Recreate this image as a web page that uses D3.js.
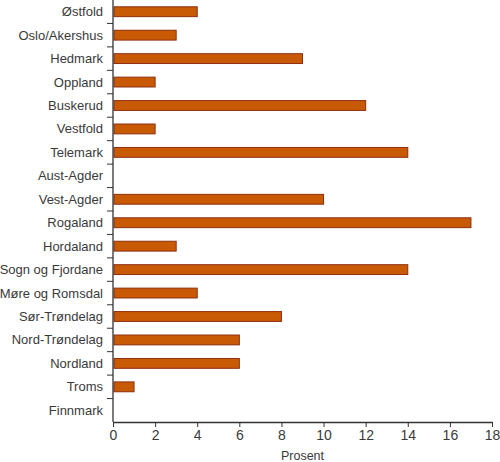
<!DOCTYPE html>
<html>
<head>
<meta charset="utf-8">
<script src="https://cdn.jsdelivr.net/npm/d3@7"></script>
<style>
  body { margin: 0; background: #fff; }
  text { font-family: "Liberation Sans", Arial, sans-serif; fill: #3a3a3a; }
</style>
</head>
<body>
<div id="wrapper"></div>
<script>
const fylker = [
  "Østfold", "Oslo/Akershus", "Hedmark", "Oppland", "Buskerud", "Vestfold",
  "Telemark", "Aust-Agder", "Vest-Agder", "Rogaland", "Hordaland",
  "Sogn og Fjordane", "Møre og Romsdal", "Sør-Trøndelag", "Nord-Trøndelag",
  "Nordland", "Troms", "Finnmark"
]
const prosent = [4, 3, 9, 2, 12, 2, 14, 0, 10, 17, 3, 14, 4, 8, 6, 6, 1, 0]
const xTicks = [0, 2, 4, 6, 8, 10, 12, 14, 16, 18]

const dataset = fylker.map((f, i) => ({ fylke: f, verdi: prosent[i] }))

let dimensions = {
  width: 500,
  height: 462,
  margin: { top: 0, right: 8, bottom: 40, left: 113 },
}
dimensions.boundedWidth = dimensions.width - dimensions.margin.left - dimensions.margin.right
dimensions.boundedHeight = dimensions.height - dimensions.margin.top - dimensions.margin.bottom

const wrapper = d3.select("#wrapper")
  .append("svg")
    .attr("width", dimensions.width)
    .attr("height", dimensions.height)

const bounds = wrapper.append("g")
    .attr("transform", `translate(${dimensions.margin.left},${dimensions.margin.top})`)

// scales
const xScale = d3.scaleLinear()
    .domain([0, 18])
    .range([0, 379])

const yScale = d3.scaleBand()
    .domain(fylker)
    .range([0, dimensions.boundedHeight])
    .paddingInner(0.58)
    .paddingOuter(0.29)

// bars
bounds.selectAll("rect")
  .data(dataset.filter(d => d.verdi > 0))
  .enter().append("rect")
    .attr("x", xScale(0) + 1)
    .attr("y", d => yScale(d.fylke))
    .attr("width", d => xScale(d.verdi) - xScale(0) - 1)
    .attr("height", yScale.bandwidth())
    .attr("fill", "#c85a06")
    .attr("stroke", "#8e2e10")
    .attr("stroke-width", 1)

// x axis
const xAxis = bounds.append("g")
    .attr("transform", `translate(0,${dimensions.boundedHeight})`)
    .call(d3.axisBottom(xScale).tickValues(xTicks).tickSize(5).tickSizeOuter(0))
xAxis.select(".domain").attr("stroke", "#333").attr("stroke-width", 1.3)
xAxis.selectAll(".tick line").attr("stroke", "#333")
xAxis.selectAll(".tick text")
    .attr("y", 7)
    .attr("dy", "0.8em")
    .style("font-size", "14px")
    .attr("fill", "#3a3a3a")

xAxis.append("text")
    .attr("x", xScale(9))
    .attr("y", 38)
    .attr("text-anchor", "middle")
    .style("font-size", "12.5px")
    .text("Prosent")

// y axis: labels at centre of band, ticks between categories
const yAxis = bounds.append("g")
yAxis.append("line")
    .attr("x1", 0).attr("x2", 0)
    .attr("y1", 0).attr("y2", dimensions.boundedHeight)
    .attr("stroke", "#333")
    .attr("stroke-width", 1.3)

const step = yScale.step()
const bandStart = d => yScale(d) - yScale.paddingInner() * step / 2
yAxis.selectAll(".ytick")
  .data(fylker.slice(1))
  .enter().append("line")
    .attr("x1", -6).attr("x2", 0)
    .attr("y1", d => bandStart(d))
    .attr("y2", d => bandStart(d))
    .attr("stroke", "#333")

yAxis.selectAll(".ylabel")
  .data(fylker)
  .enter().append("text")
    .attr("x", -10)
    .attr("y", d => yScale(d) + yScale.bandwidth() / 2)
    .attr("dy", "0.35em")
    .attr("text-anchor", "end")
    .style("font-size", "13px")
    .text(d => d)
</script>
</body>
</html>
